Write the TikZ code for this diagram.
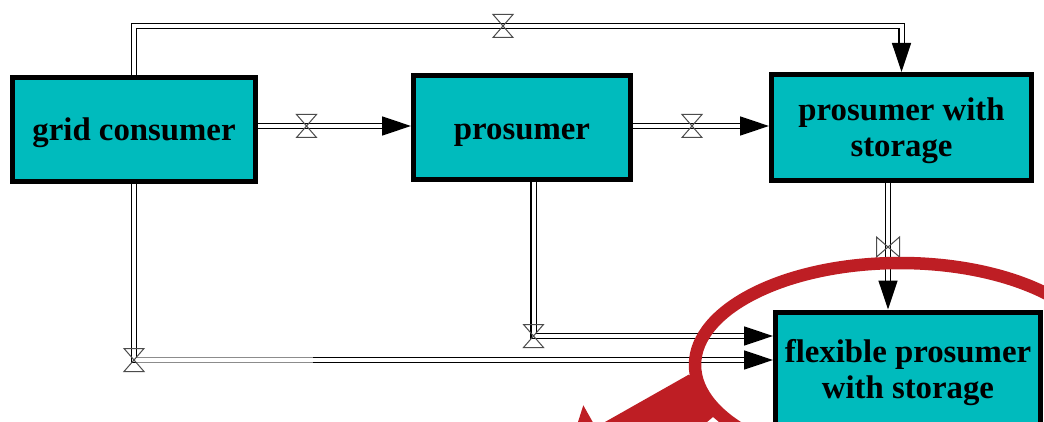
\documentclass[tikz,border=0pt]{standalone}
\usepackage{fontspec}
\setmainfont{Liberation Serif}
\usetikzlibrary{arrows.meta,calc}
\definecolor{boxteal}{RGB}{0,187,189}
\definecolor{markred}{RGB}{190,30,36}
\tikzset{
  statebox/.style={draw=black,fill=boxteal,line width=5pt,align=center,inner sep=0pt,
    font=\fontsize{32.8}{36.5}\selectfont\bfseries},
  pipe/.style={draw=black,line width=1.35pt,double=white,double distance=4pt},
  pipeend/.style={pipe,-{Triangle[length=29pt,width=19pt]}},
  fadedpipe/.style={pipe,draw=black!45},
  valvemark/.style={draw=black!70,line width=1pt,fill=none},
  hvalve/.pic={\draw[valvemark] (-10,-11.5) -- (10,-11.5) -- (-10,11.5) -- (10,11.5) -- cycle;},
  vvalve/.pic={\draw[valvemark] (-11.5,-10) -- (-11.5,10) -- (11.5,-10) -- (11.5,10) -- cycle;},
}
\begin{document}
\begin{tikzpicture}[x=1pt,y=-1pt]
\useasboundingbox (0,0) rectangle (1044,422);
\clip (0,0) rectangle (1044,422);
\fill[white] (0,0) rectangle (1044,422);
\node[statebox,minimum width=243pt,minimum height=104pt,text height=21.6pt,text depth=0pt] (grid) at (134,129.5) {grid consumer};
\node[statebox,minimum width=217pt,minimum height=104pt,text height=25pt,text depth=0pt] (pros) at (522,127.5) {prosumer};
\node[statebox,minimum width=260pt,minimum height=106pt,text height=59pt,text depth=0pt] (stor) at (901.5,127.5) {prosumer with\\storage};
\node[statebox,minimum width=265pt,minimum height=120pt,text height=53pt,text depth=0pt] (flex) at (908,372) {flexible prosumer\\with storage};
\coordinate (vA) at (306.5,126);
\coordinate (vB) at (692,126);
\coordinate (vT) at (503,26);
\coordinate (vR) at (888,247);
\coordinate (vP) at (533.5,336);
\coordinate (vG) at (134,360);
\coordinate (fadeEnd) at (313,360);
\coordinate (cTL) at (grid.north |- vT);
\coordinate (cTR) at (stor.north |- vT);
\draw[pipeend] (grid.north) -- (cTL) -- (cTR) -- (stor.north);
\draw[pipeend] (grid.east |- vA) -- (pros.west |- vA);
\draw[pipeend] (pros.east |- vA) -- (stor.west |- vA);
\draw[pipeend] (vR |- stor.south) -- (vR |- flex.north);
\draw[pipeend] (vP |- pros.south) -- (vP) -- (flex.west |- vP);
\draw[pipeend] (grid.south) -- (vG) -- (flex.west |- vG);
\draw[fadedpipe] ($(vG)+(3,0)$) -- (fadeEnd);
\pic at (vA) {hvalve};
\pic at (vB) {hvalve};
\pic at (vT) {hvalve};
\pic at (vP) {hvalve};
\pic at (vG) {hvalve};
\pic at (vR) {vvalve};
\draw[markred,line width=12.5pt] (900,365) ellipse [x radius=205,y radius=102];
\fill[markred] (689,374.5) -- (605,422) -- (707,422) -- (713,417) -- (719,422) -- (730,422) -- (708,402) -- (697,384) -- cycle;
\fill[markred] (583.3,405.3) -- (578,422) -- (592.7,422) -- cycle;
\end{tikzpicture}
\end{document}
